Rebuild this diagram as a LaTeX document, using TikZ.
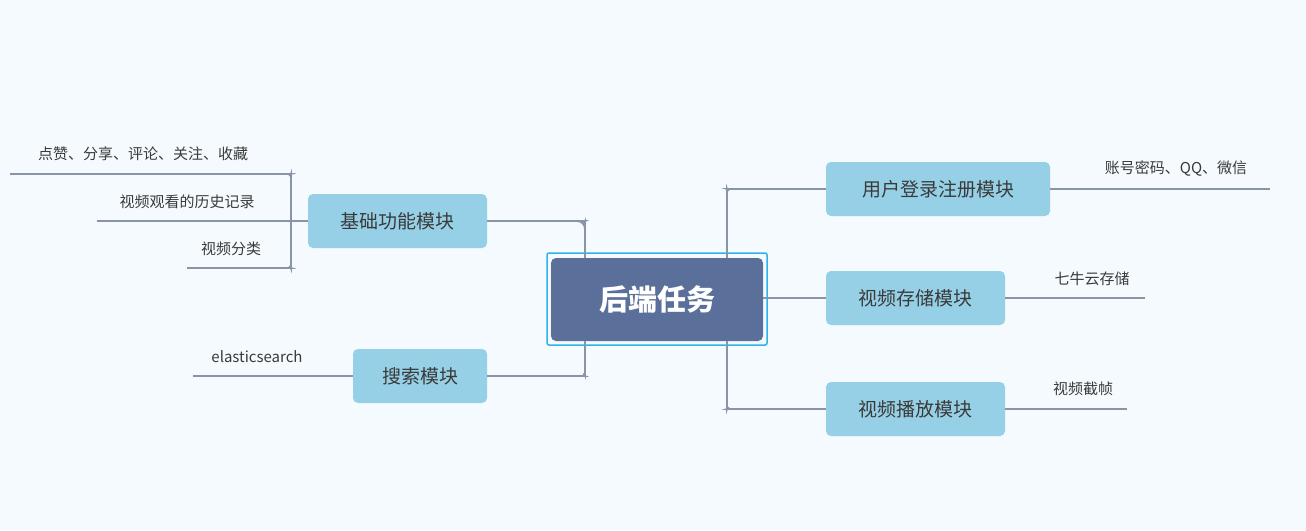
\documentclass[tikz,border=0pt]{standalone}
\usepackage{fontspec}
\setmainfont{Noto Sans CJK SC}
\definecolor{bg}{HTML}{F5FAFE}
\definecolor{cen}{HTML}{5A6F9A}
\definecolor{ring}{HTML}{2EB3EA}
\definecolor{br}{HTML}{96D0E6}
\definecolor{ln}{HTML}{8A94A8}
\definecolor{tx}{HTML}{3A3A3A}
\begin{document}
\begin{tikzpicture}[x=1pt,y=-1pt,
  branch/.style={fill=br,rounded corners=5pt,text=tx,font=\fontsize{19}{22}\selectfont,inner sep=0pt},
  leaf/.style={text=tx,font=\fontsize{15}{18}\selectfont,inner sep=0pt},
  conn/.style={draw=ln,line width=1.8pt,rounded corners=8pt}]
\fill[bg] (0,0) rectangle (1306,530);
\useasboundingbox (0,0) rectangle (1306,530);
\draw[ring,line width=1.5pt,rounded corners=2pt] (547,253) rectangle (767,345);
\node[fill=cen,rounded corners=5pt,minimum width=212pt,minimum height=83pt,text=white,font=\fontsize{29}{32}\selectfont\bfseries] (c) at (657,299.5) {后端任务};
\node[branch,minimum width=179pt,minimum height=54pt] (b1) at (397.5,221) {基础功能模块};
\node[branch,minimum width=134pt,minimum height=54pt] (b2) at (420,376) {搜索模块};
\node[branch,minimum width=224pt,minimum height=54pt] (b3) at (938,189) {用户登录注册模块};
\node[branch,minimum width=179pt,minimum height=54pt] (b4) at (915.5,298) {视频存储模块};
\node[branch,minimum width=179pt,minimum height=54pt] (b5) at (915.5,409) {视频播放模块};
\draw[conn] (b1.east) -| (c.north west -| 585,0) ;
\draw[conn] (b1.east) -- (577,221) to[out=0,in=90] (585,230) -- (585,258);
\draw[conn] (b2.east) -- (577,376) to[out=0,in=-90] (585,367) -- (585,341);
\draw[conn] (b3.west) -- (735,189) to[out=180,in=90] (727,197) -- (727,258);
\draw[conn] (c.east |- b4.west) -- (b4.west);
\draw[conn] (b5.west) -- (735,409) to[out=180,in=-90] (727,401) -- (727,341);
% left leaves
\coordinate (l1) at (10,174); \coordinate (l2) at (97,221); \coordinate (l3) at (187,268);
\draw[conn] (b1.west) -- (291,221);
\draw[conn] (l1) -- (283,174) to[out=0,in=90] (291,182) -- (291,260) to[out=-90,in=0] (283,268) -- (l3);
\draw[conn] (l2) -- (291,221);
\node[leaf] (t1) at (143,154) {点赞、分享、评论、关注、收藏};
\node[leaf] (t2) at (187,202) {视频观看的历史记录};
\node[leaf] (t3) at (231,249) {视频分类};
\coordinate (l4) at (193,376);
\draw[conn] (b2.west) -- (l4);
\node[leaf] (t4) at (257,357) {elasticsearch};
\coordinate (r1) at (1270,189); \coordinate (r2) at (1145,298); \coordinate (r3) at (1127,409);
\draw[conn] (b3.east) -- (r1);
\draw[conn] (b4.east) -- (r2);
\draw[conn] (b5.east) -- (r3);
\node[leaf] (t5) at (1176,169) {账号密码、QQ、微信};
\node[leaf] (t6) at (1092,279) {七牛云存储};
\node[leaf] (t7) at (1083,389) {视频截帧};
\end{tikzpicture}
\end{document}
